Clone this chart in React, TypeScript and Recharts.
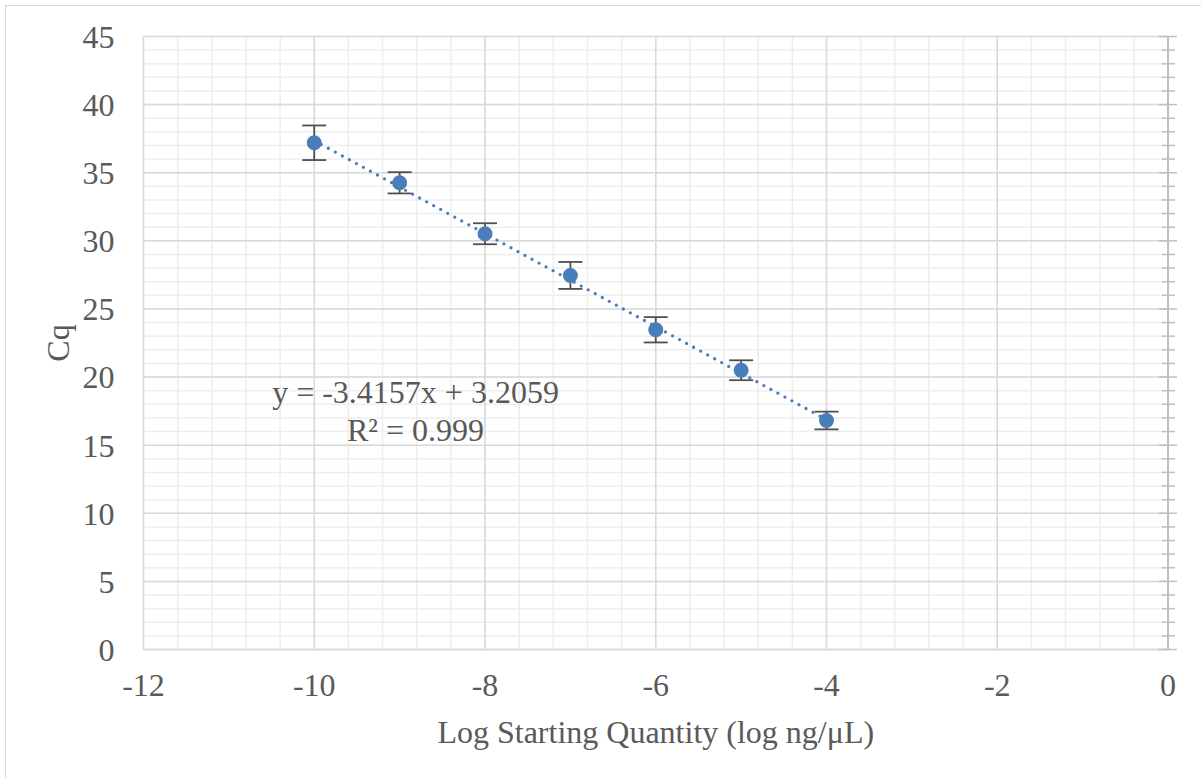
import React from 'react';
import {
  ComposedChart,
  Scatter,
  XAxis,
  YAxis,
  CartesianGrid,
  ErrorBar,
  Label,
} from 'recharts';

// standard curve: log starting quantity vs Cq
const logQty = [-10, -9, -8, -7, -6, -5, -4];
const cq = [37.2, 34.26, 30.52, 27.46, 23.47, 20.5, 16.81];
const cqErr = [1.27, 0.78, 0.77, 0.99, 0.93, 0.73, 0.65];

// linear trendline end points (from the fitted equation)
const trendX = [-10, -4];
const trendY = [37.36, 16.87];

const xDomain = [-12, 0];
const yDomain = [0, 45];
const xTicks = [-12, -10, -8, -6, -4, -2, 0];
const yTicks = [0, 5, 10, 15, 20, 25, 30, 35, 40, 45];
const xMinor = Array.from({ length: 31 }, (_, i) => Math.round((-12 + i * 0.4) * 10) / 10);
const yMinor = Array.from({ length: 46 }, (_, i) => i);

const points = logQty.map((x, i) => ({ x, y: cq[i], err: cqErr[i] }));
const trend = trendX.map((x, i) => ({ x, y: trendY[i] }));

const FONT = 'Liberation Serif';
const TEXT = '#595959';
const BLUE = '#4a7ebb';

const RightTick = (props: any) => {
  const { x, y, payload } = props;
  const major = payload.value % 5 === 0;
  return (
    <line
      x1={x - (major ? 9 : 6)}
      x2={x + (major ? 9 : 7)}
      y1={y}
      y2={y}
      stroke="#bfbfbf"
      strokeWidth={1.5}
    />
  );
};

// grid lines mapped over the plot area (avoids recharts' tick thinning)
const vGen = (values: number[]) => (p: any) => {
  const { left, width } = p.offset;
  return values.map(
    (v) => left + ((v - xDomain[0]) / (xDomain[1] - xDomain[0])) * width
  );
};
const hGen = (values: number[]) => (p: any) => {
  const { top, height } = p.offset;
  return values.map(
    (v) => top + height - ((v - yDomain[0]) / (yDomain[1] - yDomain[0])) * height
  );
};

export default function App() {
  return (
    <div
      style={{
        position: 'absolute',
        left: 0,
        top: 0,
        width: 1201,
        height: 778,
        overflow: 'hidden',
        background: '#fff',
      }}
    >
      <div
        style={{
          position: 'absolute',
          left: 5,
          top: 5,
          width: 1400,
          height: 1000,
          border: '1.5px solid #d9d9d9',
        }}
      />
      <div style={{ position: 'absolute', left: 0, top: 0 }}>
        <ComposedChart
          width={1201}
          height={778}
          margin={{ top: 36.5, right: 0, bottom: 0, left: 0 }}
        >
          <CartesianGrid
            stroke="#eeeeee"
            strokeWidth={1.5}
            verticalCoordinatesGenerator={vGen(xMinor)}
            horizontalCoordinatesGenerator={hGen(yMinor)}
          />
          <CartesianGrid
            stroke="#d9d9d9"
            strokeWidth={1.5}
            verticalCoordinatesGenerator={vGen(xTicks)}
            horizontalCoordinatesGenerator={hGen(yTicks)}
          />
          <XAxis
            dataKey="x"
            type="number"
            domain={xDomain}
            ticks={xTicks}
            allowDataOverflow
            height={128.5}
            axisLine={{ stroke: '#d9d9d9', strokeWidth: 1.5 }}
            tickLine={false}
            tickSize={0}
            tickMargin={24}
            tick={{ fontFamily: FONT, fontSize: 32, fill: TEXT }}
          >
            <Label
              value="Log Starting Quantity (log ng/μL)"
              position="insideBottom"
              offset={35}
              style={{ fontFamily: FONT, fontSize: 32, fill: TEXT }}
            />
          </XAxis>
          <YAxis
            dataKey="y"
            type="number"
            domain={yDomain}
            ticks={yTicks}
            allowDataOverflow
            width={143.5}
            axisLine={false}
            tickLine={false}
            tickSize={0}
            tickMargin={29}
            tick={{ fontFamily: FONT, fontSize: 32, fill: TEXT }}
          >
            <Label
              content={(p: any) => {
                const vb = p.viewBox;
                const cx = vb.x + 68.5;
                const cy = vb.y + vb.height / 2;
                return (
                  <text
                    x={cx}
                    y={cy}
                    transform={`rotate(-90 ${cx} ${cy})`}
                    textAnchor="middle"
                    fontFamily={FONT}
                    fontSize={32}
                    fill={TEXT}
                  >
                    Cq
                  </text>
                );
              }}
            />
          </YAxis>
          <YAxis
            yAxisId="right"
            orientation="right"
            type="number"
            domain={yDomain}
            ticks={yMinor}
            interval={0}
            allowDataOverflow
            width={33}
            axisLine={{ stroke: '#bfbfbf', strokeWidth: 2 }}
            tickLine={false}
            tickSize={0}
            tickMargin={0}
            tick={<RightTick />}
          />
          <Scatter
            data={trend}
            dataKey="y"
            isAnimationActive={false}
            line={{
              stroke: BLUE,
              strokeWidth: 3.3,
              strokeDasharray: '0 8',
              strokeLinecap: 'round',
            }}
            shape={() => null}
          />
          <Scatter
            data={points}
            dataKey="y"
            isAnimationActive={false}
            shape={() => null}
          >
            <ErrorBar
              dataKey="err"
              direction="y"
              width={12}
              stroke="#505050"
              strokeWidth={1.8}
            />
          </Scatter>
          <Scatter
            data={points}
            dataKey="y"
            isAnimationActive={false}
            shape={(p: any) => (
              <circle cx={p.cx} cy={p.cy} r={7.5} fill={BLUE} />
            )}
          />
        </ComposedChart>
      </div>
      <svg
        width={1201}
        height={778}
        style={{ position: 'absolute', left: 0, top: 0, pointerEvents: 'none' }}
      >
        <text
          x={415.5}
          y={403}
          textAnchor="middle"
          fontFamily={FONT}
          fontSize={32}
          fill={TEXT}
        >
          y = -3.4157x + 3.2059
        </text>
        <text
          x={415.5}
          y={441}
          textAnchor="middle"
          fontFamily={FONT}
          fontSize={32}
          fill={TEXT}
        >
          R² = 0.999
        </text>
      </svg>
    </div>
  );
}
